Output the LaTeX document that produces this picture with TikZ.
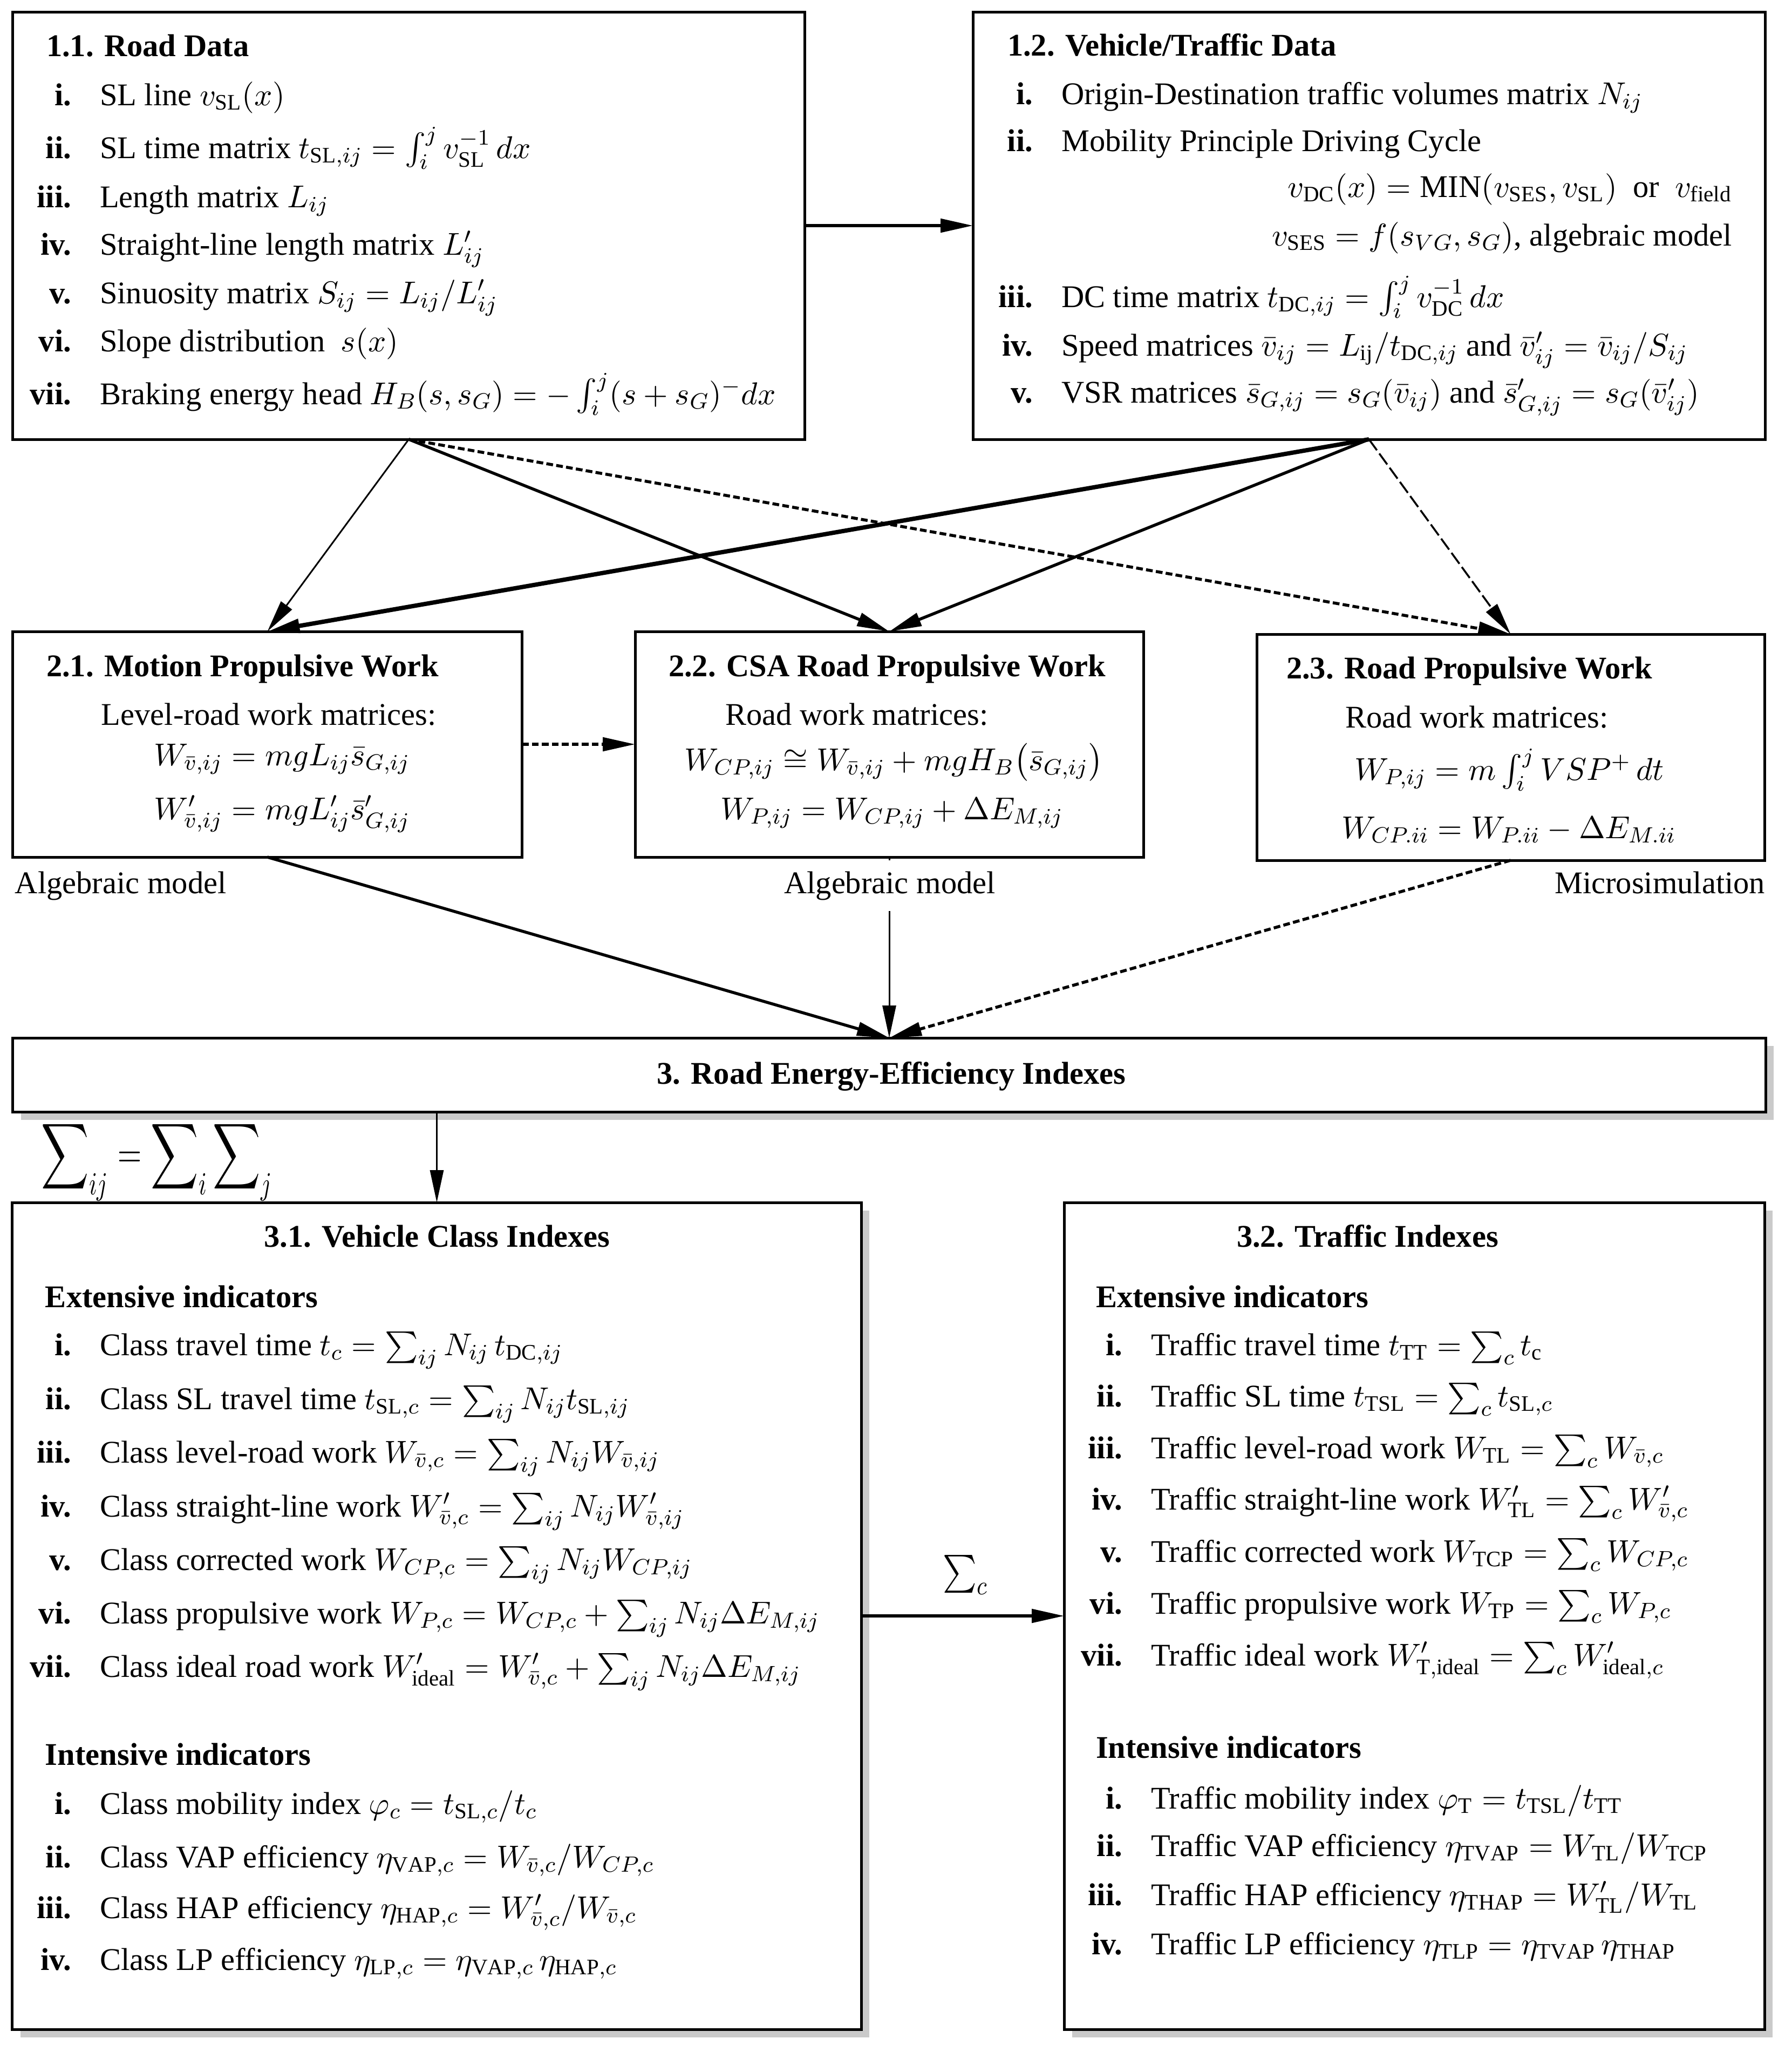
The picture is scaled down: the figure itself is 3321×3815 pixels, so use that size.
\documentclass[tikz,border=0pt]{standalone}
\usepackage{fix-cm}
\usepackage{graphicx}
\usepackage{amsmath,amssymb}
\usepackage{fontspec}
\setmainfont{Liberation Serif}
\usetikzlibrary{arrows.meta,shadows}
\newcommand{\fsz}{\fontsize{11.7}{14}\selectfont}
\newcommand{\itm}[5]{\node[num] (#1n) at (#2-51,#3) {#4};\node[txt] (#1t) at (#2,#3) {#5};}
\begin{document}
\begin{tikzpicture}[x=0.2pt,y=-0.2pt,
  box/.style={draw, line width=1pt, fill=white, inner sep=0pt, outer sep=0pt},
  sbox/.style={box, drop shadow={shadow xshift=3pt, shadow yshift=-3pt, opacity=0.35, fill=black!60}},
  num/.style={anchor=base east, inner sep=0pt, font=\fsz\bfseries},
  txt/.style={anchor=base west, inner sep=0pt, font=\fsz},
  ttl/.style={anchor=base west, inner sep=0pt, font=\fsz\bfseries},
  ctxt/.style={anchor=base, inner sep=0pt, font=\fsz},
  tip/.tip={Triangle[length=12pt,width=5pt]},
  arr/.style={line width=1.1pt, -tip},
  arrthin/.style={line width=0.6pt, -tip},
  arrthick/.style={line width=1.6pt, -tip},
  arrdash/.style={line width=1.1pt, dash pattern=on 2.5pt off 1.2pt, -tip},
  arrdashb/.style={line width=0.7pt, dash pattern=on 5pt off 1.5pt, -tip}]
\useasboundingbox (0,0) rectangle (3321,3815);

% boxes
\node[box, minimum width=293.4pt, minimum height=158.4pt] (b11) at (757.5,418) {};
\node[box, minimum width=293.6pt, minimum height=158.4pt] (b12) at (2537,418) {};
\node[box, minimum width=188.6pt, minimum height=83.6pt] (b21) at (495.5,1379) {};
\node[box, minimum width=188.4pt, minimum height=83.6pt] (b22) at (1648,1379) {};
\node[box, minimum width=188.2pt, minimum height=83.8pt] (b23) at (2799.5,1384.5) {};
\node[sbox, minimum width=649.6pt, minimum height=27.4pt] (b3) at (1648,1991.5) {};
\node[sbox, minimum width=314.6pt, minimum height=306.4pt] (b31) at (809.5,2994) {};
\node[sbox, minimum width=259.6pt, minimum height=306.4pt] (b32) at (2621,2994) {};

% box 1.1
\node[ttl] (t11) at (85,104) {1.1. Road Data};
\itm{a1}{184}{195}{i.}{SL line $v_{\mathrm{SL}}(x)$}
\itm{a2}{184}{293}{ii.}{SL time matrix $t_{\mathrm{SL},ij}=\int_i^j v_{\mathrm{SL}}^{-1}\,dx$}
\itm{a3}{184}{384}{iii.}{Length matrix $L_{ij}$}
\itm{a4}{184}{472}{iv.}{Straight-line length matrix $L'_{ij}$}
\itm{a5}{184}{562}{v.}{Sinuosity matrix $S_{ij}=L_{ij}/L'_{ij}$}
\itm{a6}{184}{651}{vi.}{Slope distribution\ \ $s(x)$}
\itm{a7}{184}{749}{vii.}{Braking energy head $H_B(s,s_G)=-\int_i^j(s+s_G)^{-}dx$}

% box 1.2
\node[ttl] (t12) at (1866,103) {1.2. Vehicle/Traffic Data};
\itm{c1}{1966}{193}{i.}{Origin-Destination traffic volumes matrix $N_{ij}$}
\itm{c2}{1966}{280}{ii.}{Mobility Principle Driving Cycle}
\node[anchor=base east, inner sep=0pt, font=\fsz] (c2a) at (3211,365) {$v_{\mathrm{DC}}(x)=\mathrm{MIN}(v_{\mathrm{SES}},v_{\mathrm{SL}})$\ \ or\ \ $v_{\mathrm{field}}$};
\node[anchor=base east, inner sep=0pt, font=\fsz] (c2b) at (3211,455) {$v_{\mathrm{SES}}=f(s_{VG},s_G)$, algebraic model};
\itm{c3}{1966}{569}{iii.}{DC time matrix $t_{\mathrm{DC},ij}=\int_i^j v_{\mathrm{DC}}^{-1}\,dx$}
\itm{c4}{1966}{659}{iv.}{Speed matrices $\bar v_{ij}=L_{\mathrm{ij}}/t_{\mathrm{DC},ij}$ and $\bar v'_{ij}=\bar v_{ij}/S_{ij}$}
\itm{c5}{1966}{746}{v.}{VSR matrices $\bar s_{G,ij}=s_G(\bar v_{ij})$ and $\bar s'_{G,ij}=s_G(\bar v'_{ij})$}

% box 2.1
\node[ttl] (t21) at (85,1253) {2.1. Motion Propulsive Work};
\node[txt] (d0) at (187,1343) {Level-road work matrices:};
\node[ctxt] (d1) at (523,1418) {$W_{\bar v,ij}=mgL_{ij}\bar s_{G,ij}$};
\node[ctxt] (d2) at (523,1518) {$W'_{\bar v,ij}=mgL'_{ij}\bar s'_{G,ij}$};

% box 2.2
\node[ttl] (t22) at (1238,1253) {2.2. CSA Road Propulsive Work};
\node[txt] (e0) at (1343,1343) {Road work matrices:};
\node[ctxt] (e1) at (1656,1427) {$W_{CP,ij}\cong W_{\bar v,ij}+mgH_B\big(\bar s_{G,ij}\big)$};
\node[ctxt] (e2) at (1653,1518) {$W_{P,ij}=W_{CP,ij}+\Delta E_{M,ij}$};

% box 2.3
\node[ttl] (t23) at (2383,1257) {2.3. Road Propulsive Work};
\node[txt] (f0) at (2492,1348) {Road work matrices:};
\node[ctxt] (f1) at (2797,1445) {$W_{P,ij}=m\int_i^j VSP^{+}\,dt$};
\node[ctxt] (f2) at (2796,1553) {$W_{CP.ii}=W_{P.ii}-\Delta E_{M.ii}$};

% box 3
\node[anchor=base, inner sep=0pt, font=\fsz\bfseries] (t3) at (1652,2008) {3. Road Energy-Efficiency Indexes};

% box 3.1
\node[anchor=base, inner sep=0pt, font=\fsz\bfseries] (t31) at (810,2310) {3.1. Vehicle Class Indexes};
\node[ttl] (g0) at (83,2422) {Extensive indicators};
\itm{g1}{184}{2511}{i.}{Class travel time $t_c=\sum_{ij}N_{ij}\,t_{\mathrm{DC},ij}$}
\itm{g2}{184}{2611}{ii.}{Class SL travel time $t_{\mathrm{SL},c}=\sum_{ij}N_{ij}t_{\mathrm{SL},ij}$}
\itm{g3}{184}{2710}{iii.}{Class level-road work $W_{\bar v,c}=\sum_{ij}N_{ij}W_{\bar v,ij}$}
\itm{g4}{184}{2810}{iv.}{Class straight-line work $W'_{\bar v,c}=\sum_{ij}N_{ij}W'_{\bar v,ij}$}
\itm{g5}{184}{2909}{v.}{Class corrected work $W_{CP,c}=\sum_{ij}N_{ij}W_{CP,ij}$}
\itm{g6}{184}{3008}{vi.}{Class propulsive work $W_{P,c}=W_{CP,c}+\sum_{ij}N_{ij}\Delta E_{M,ij}$}
\itm{g7}{184}{3107}{vii.}{Class ideal road work $W'_{\mathrm{ideal}}=W'_{\bar v,c}+\sum_{ij}N_{ij}\Delta E_{M,ij}$}
\node[ttl] (h0) at (83,3270) {Intensive indicators};
\itm{h1}{184}{3361}{i.}{Class mobility index $\varphi_c=t_{\mathrm{SL},c}/t_c$}
\itm{h2}{184}{3460}{ii.}{Class VAP efficiency $\eta_{\mathrm{VAP},c}=W_{\bar v,c}/W_{CP,c}$}
\itm{h3}{184}{3554}{iii.}{Class HAP efficiency $\eta_{\mathrm{HAP},c}=W'_{\bar v,c}/W_{\bar v,c}$}
\itm{h4}{184}{3650}{iv.}{Class LP efficiency $\eta_{\mathrm{LP},c}=\eta_{\mathrm{VAP},c}\,\eta_{\mathrm{HAP},c}$}

% box 3.2
\node[ttl] (t32) at (2291,2310) {3.2. Traffic Indexes};
\node[ttl] (k0) at (2030,2422) {Extensive indicators};
\itm{k1}{2132}{2511}{i.}{Traffic travel time $t_{\mathrm{TT}}=\sum_c t_{\mathrm{c}}$}
\itm{k2}{2132}{2606}{ii.}{Traffic SL time $t_{\mathrm{TSL}}=\sum_c t_{\mathrm{SL},c}$}
\itm{k3}{2132}{2702}{iii.}{Traffic level-road work $W_{\mathrm{TL}}=\sum_c W_{\bar v,c}$}
\itm{k4}{2132}{2797}{iv.}{Traffic straight-line work $W'_{\mathrm{TL}}=\sum_c W'_{\bar v,c}$}
\itm{k5}{2132}{2894}{v.}{Traffic corrected work $W_{\mathrm{TCP}}=\sum_c W_{CP,c}$}
\itm{k6}{2132}{2990}{vi.}{Traffic propulsive work $W_{\mathrm{TP}}=\sum_c W_{P,c}$}
\itm{k7}{2132}{3086}{vii.}{Traffic ideal work $W'_{\mathrm{T,ideal}}=\sum_c W'_{\mathrm{ideal},c}$}
\node[ttl] (m0) at (2030,3257) {Intensive indicators};
\itm{m1}{2132}{3351}{i.}{Traffic mobility index $\varphi_{\mathrm{T}}=t_{\mathrm{TSL}}/t_{\mathrm{TT}}$}
\itm{m2}{2132}{3439}{ii.}{Traffic VAP efficiency $\eta_{\mathrm{TVAP}}=W_{\mathrm{TL}}/W_{\mathrm{TCP}}$}
\itm{m3}{2132}{3530}{iii.}{Traffic HAP efficiency $\eta_{\mathrm{THAP}}=W'_{\mathrm{TL}}/W_{\mathrm{TL}}$}
\itm{m4}{2132}{3621}{iv.}{Traffic LP efficiency $\eta_{\mathrm{TLP}}=\eta_{\mathrm{TVAP}}\,\eta_{\mathrm{THAP}}$}

% connectors
\draw[arr] (b11) -- (b12);
\draw[arrthin] (b11.south) -- (b21.north);
\draw[arr] (b11.south) -- (b22.north);
\draw[arrdash] (b11.south) -- (b23.north);
\draw[arrthick] (b12.south) -- (b21.north);
\draw[arr] (b12.south) -- (b22.north);
\draw[arrdashb] (b12.south) -- (b23.north);
\draw[arrdash] (b21) -- (b22);
\draw[arr] (b21.south) -- (b3.north);
\draw[arrthin] (b22.south) -- (b3.north);
\draw[arrdash] (b23.south) -- (b3.north);
\draw[arrthin] (b3.south -| b31.north) -- (b31.north);
\draw[arr] (b31) -- (b32);

% labels
\node[anchor=base west, inner sep=0pt, font=\fsz] (l1) at (27,1655) {Algebraic model};
\node[anchor=base, inner sep=4pt, fill=white, font=\fsz] (l2) at (1649,1655) {Algebraic model};
\node[anchor=base east, inner sep=0pt, font=\fsz] (l3) at (3272,1655) {Microsimulation};
\node[inner sep=0pt] (s1) at (291,2150) {\scalebox{0.72}[1]{\fontsize{17}{20}\selectfont$\displaystyle\sum\nolimits_{ij}=\sum\nolimits_{i}\sum\nolimits_{j}$}};
\node[inner sep=0pt] (s2) at (1789,2918) {\scalebox{0.85}[1]{\fontsize{14}{17}\selectfont$\sum\nolimits_{c}$}};
\end{tikzpicture}
\end{document}
